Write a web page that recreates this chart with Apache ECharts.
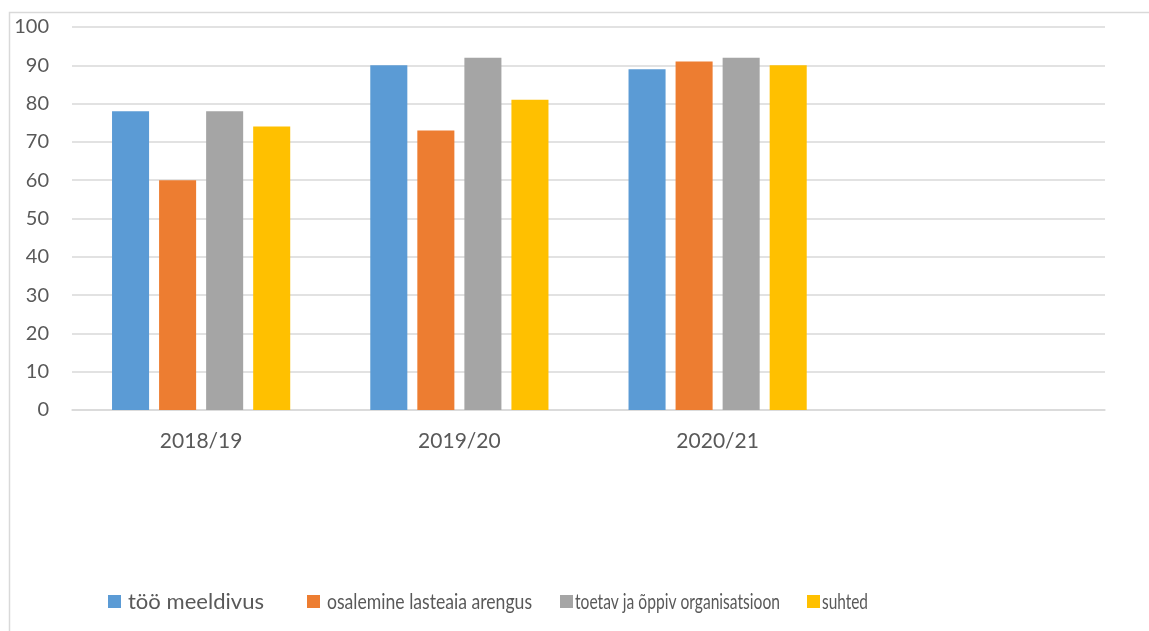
<!DOCTYPE html>
<html><head><meta charset="utf-8">
<script src="https://cdn.jsdelivr.net/npm/echarts@6/dist/echarts.min.js"></script>
<style>html,body{margin:0;padding:0;background:#fff}#c{width:1149px;height:631px}</style>
</head><body><div id="c"></div>
<script>
const categories = ['2018/19', '2019/20', '2020/21', ''];
const seriesNames = ['töö meeldivus', 'osalemine lasteaia arengus', 'toetav ja õppiv organisatsioon', 'suhted'];
const tooMeeldivus = [78, 90, 89, null];
const osalemine = [60, 73, 91, null];
const toetav = [78, 92, 92, null];
const suhted = [74, 81, 90, null];
const colors = ['#5b9bd5', '#ed7d31', '#a5a5a5', '#ffc000'];
const font = 'Lato, "Open Sans", sans-serif';
// legend layout (icon left, text left, target text width)
const legendLefts = [108, 307, 560, 807];
const legendTextLefts = [128, 327, 575, 822];
const legendTextWidths = [136, 205, 205, 46];
const legendFontSize = 21;
const measure = document.createElement('canvas').getContext('2d');
measure.font = legendFontSize + 'px Lato';
const chart = echarts.init(document.getElementById('c'), null, {renderer: 'canvas'});
const dataSets = [tooMeeldivus, osalemine, toetav, suhted];
const legendTexts = seriesNames.map((n, i) => {
  const w = measure.measureText(n).width;
  return {
    type: 'text', x: legendTextLefts[i], y: 602, scaleX: legendTextWidths[i] / w, scaleY: 1,
    style: {text: n, x: 0, y: 0, font: legendFontSize + 'px Lato', fill: '#595959', verticalAlign: 'middle', align: 'left'},
    silent: true
  };
});
chart.setOption({
  animation: false,
  color: colors,
  graphic: [
    {type: 'polyline', shape: {points: [[9.5, 631], [9.5, 12.5], [1149, 12.5]]}, style: {stroke: '#d9d9d9', lineWidth: 1.5, fill: null}}
  ].concat(legendTexts),
  grid: {left: 72, right: 44, top: 27, bottom: 221, containLabel: false},
  legend: seriesNames.map((n, i) => ({
    top: 595, left: legendLefts[i], itemWidth: 13, itemHeight: 13,
    icon: 'rect', padding: 0,
    formatter: () => '',
    textStyle: {fontSize: 1},
    data: [n]
  })),
  xAxis: {
    type: 'category', data: categories,
    axisLine: {lineStyle: {color: '#d9d9d9', width: 1.5}},
    axisTick: {show: false},
    axisLabel: {fontFamily: font, fontSize: 21, color: '#595959', margin: 21}
  },
  yAxis: {
    type: 'value', min: 0, max: 100, interval: 10,
    axisLine: {show: false}, axisTick: {show: false},
    splitLine: {lineStyle: {color: '#d9d9d9', width: 1.5}},
    axisLabel: {fontFamily: font, fontSize: 20, color: '#595959', margin: 23}
  },
  series: seriesNames.map((n, i) => ({
    name: n, type: 'bar', data: dataSets[i],
    barGap: '27%', barCategoryGap: '31%'
  }))
});
</script></body></html>
